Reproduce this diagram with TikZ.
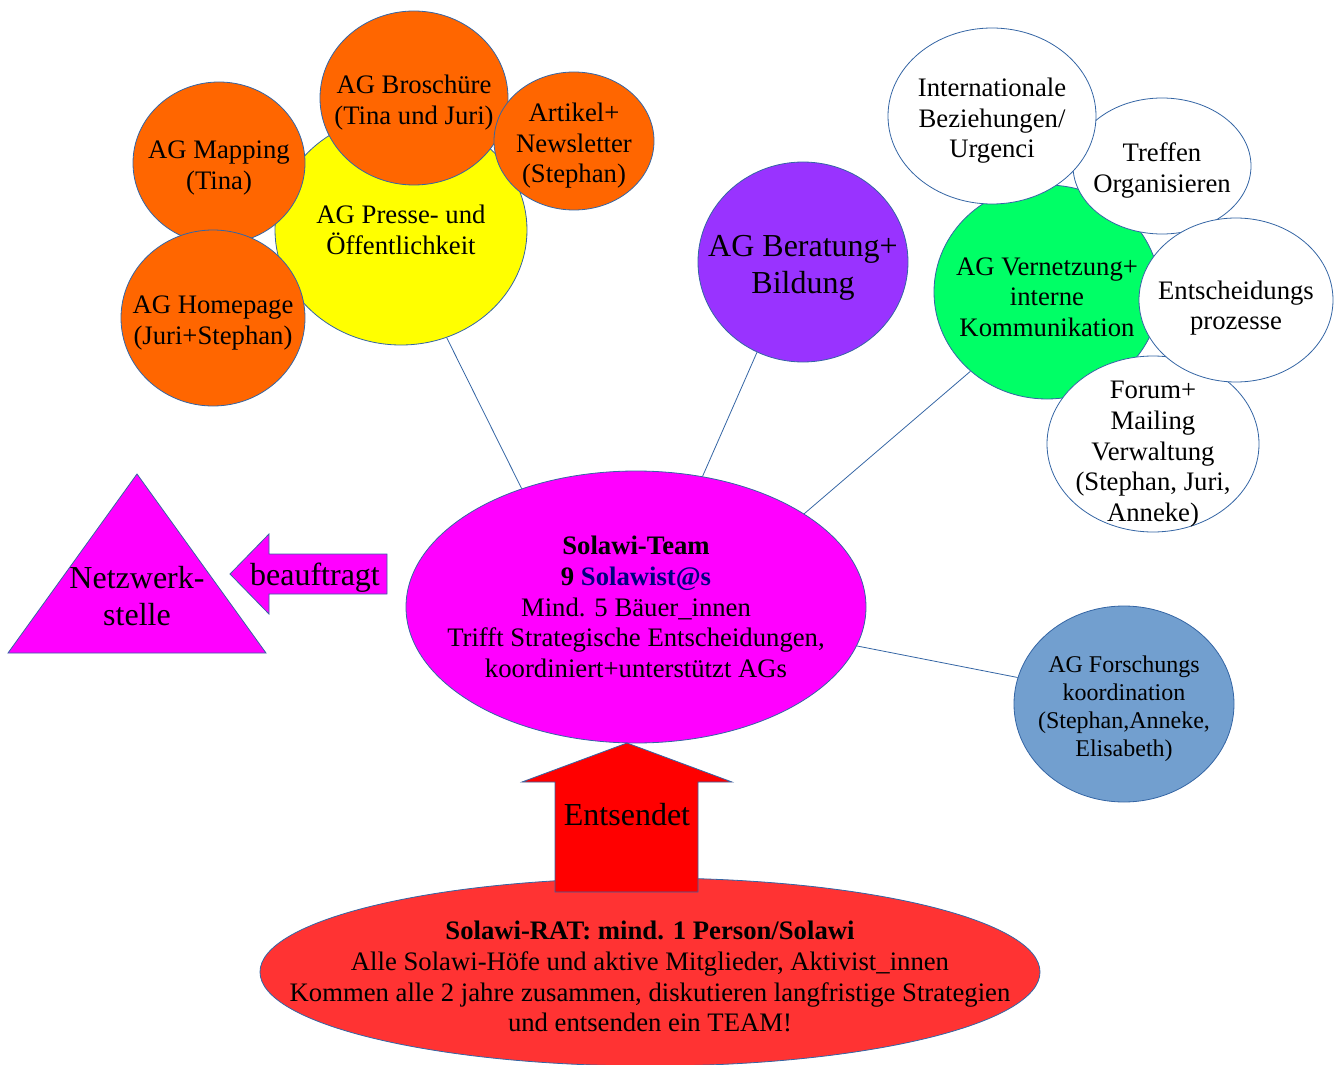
\documentclass[tikz,border=0pt]{standalone}
\usepackage{fontspec}
\setmainfont{Liberation Serif}
\usetikzlibrary{shapes.geometric}
\definecolor{lineblue}{HTML}{3465A4}
\definecolor{agorange}{HTML}{FF6600}
\definecolor{agyellow}{HTML}{FFFF00}
\definecolor{agpurple}{HTML}{9933FF}
\definecolor{aggreen}{HTML}{00FF66}
\definecolor{agblue}{HTML}{729FCF}
\definecolor{teampink}{HTML}{FF00FF}
\definecolor{ratred}{HTML}{FF3333}
\definecolor{sendred}{HTML}{FF0000}
\definecolor{solanavy}{HTML}{000080}
\newcommand{\topstrut}{\rule{0pt}{1.05em}}
\tikzset{
  bubble/.style={ellipse, draw=lineblue, thin, align=center, inner sep=-50pt, font=\fontsize{13.35}{15.3}\selectfont},
  orangeag/.style={bubble, fill=agorange},
  whiteag/.style={bubble, fill=white},
  bigtext/.style={font=\fontsize{16}{18.5}\selectfont},
  link/.style={draw=lineblue, thin},
  blockarrow/.style={draw=lineblue, thin}
}

\begin{document}
\begin{tikzpicture}[x=0.5pt,y=-0.5pt]
  \useasboundingbox (0,0) rectangle (1335,1065);
  % Presse cluster
  \node[bubble, fill=agyellow, minimum width=126pt, minimum height=115pt] (presse) at (401,230) {AG Presse- und\\Öffentlichkeit};
  \node[orangeag, minimum width=86pt, minimum height=81pt] (mapping) at (219,163) {\topstrut AG Mapping\\(Tina)};
  \node[orangeag, minimum width=92pt, minimum height=88pt] (homepage) at (213,318) {\topstrut AG Homepage\\(Juri+Stephan)};
  \node[orangeag, minimum width=94pt, minimum height=87pt] (broschuere) at (414,98) {\topstrut AG Broschüre\\(Tina und Juri)};
  \node[orangeag, minimum width=80pt, minimum height=69pt] (artikel) at (574,141) {\topstrut Artikel+\\Newsletter\\(Stephan)};
  % Beratung
  \node[bubble, bigtext, fill=agpurple, minimum width=105pt, minimum height=100pt] (beratung) at (803,262) {\topstrut AG Beratung+\\Bildung};
  % Vernetzung cluster
  \node[bubble, fill=aggreen, minimum width=113pt, minimum height=107pt] (vernetzung) at (1047,292) {\topstrut AG Vernetzung+\\interne\\Kommunikation};
  \node[whiteag, minimum width=106pt, minimum height=88pt] (forum) at (1153,444) {\rule{0pt}{19pt}Forum+\\Mailing\\Verwaltung\\(Stephan, Juri,\\Anneke)};
  \node[whiteag, minimum width=89pt, minimum height=68pt] (treffen) at (1162,166) {\topstrut Treffen\\Organisieren};
  \node[whiteag, minimum width=97pt, minimum height=82pt] (entscheidung) at (1236,300) {\rule{0pt}{17.5pt}Entscheidungs\\prozesse};
  \node[whiteag, minimum width=104pt, minimum height=88pt] (international) at (992,116) {\topstrut Internationale\\Beziehungen/\\Urgenci};
  % Team and Rat
  \node[bubble, fill=teampink, minimum width=230pt, minimum height=136pt] (team) at (636,607) {\textbf{Solawi-Team}\\\textbf{9 \textcolor{solanavy}{Solawist@s}}\\Mind. 5 Bäuer\_innen\\Trifft Strategische Entscheidungen,\\koordiniert+unterstützt AGs};
  \node[bubble, fill=agblue, minimum width=110pt, minimum height=98pt, font=\fontsize{12}{14}\selectfont] (forschung) at (1124,704) {\topstrut AG Forschungs\\koordination\\(Stephan,Anneke,\\Elisabeth)};
  \node[bubble, fill=ratred, minimum width=390pt, minimum height=94pt] (rat) at (650,972) {\topstrut\textbf{Solawi-RAT: mind. 1 Person/Solawi}\\Alle Solawi-Höfe und aktive Mitglieder, Aktivist\_innen\\Kommen alle 2 jahre zusammen, diskutieren langfristige Strategien\\und entsenden ein TEAM!};
  % links to the team
  \draw[link] (presse.-67) -- (team.134);
  \draw[link] (beratung.-117) -- (team.63);
  \draw[link] (vernetzung.-134) -- (team.29);
  \draw[link] (team.-10) -- (forschung.166);
  % block arrows
  \draw[blockarrow, fill=sendred] (627,743) -- (732,782) -- (698,782) -- (698,892) -- (555,892) -- (555,782) -- (522,782) -- cycle;
  \node[bigtext] (entsendet) at (627,815) {Entsendet};
  \draw[blockarrow, fill=teampink] (230,574) -- (269,534) -- (269,554) -- (387,554) -- (387,594) -- (269,594) -- (269,614) -- cycle;
  \node[bigtext] (beauftragt) at (315,578) {beauftragt};
  % Netzwerkstelle
  \draw[blockarrow, fill=teampink] (137,474) -- (266,653) -- (8,653) -- cycle;
  \node[bigtext, align=center] (netzwerk) at (137,596) {Netzwerk-\\stelle};
\end{tikzpicture}
\end{document}
